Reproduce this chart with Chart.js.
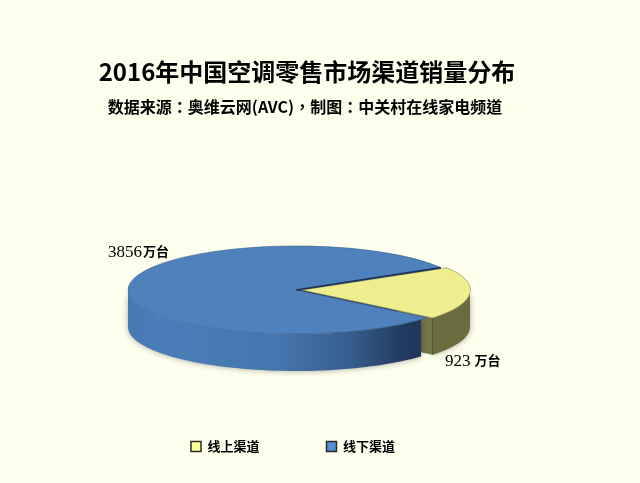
<!DOCTYPE html>
<html>
<head>
<meta charset="utf-8">
<style>
  html, body { margin: 0; padding: 0; background: #ffffee; }
  canvas { display: block; }
</style>
<script src="https://cdn.jsdelivr.net/npm/chart.js@4"></script>
</head>
<body>
<canvas id="myChart" width="640" height="483"></canvas>
<script>
var categories = ["线上渠道", "线下渠道"];
var salesValues = [923, 3856];
var valueUnit = "万台";
var titleText = "2016年中国空调零售市场渠道销量分布";
var subtitleText = "数据来源\uFF1A奥维云网(AVC)\uFF0C制图\uFF1A中关村在线家电频道";

var faceColors = ["#eeee8e", "#4f81bd"];
var legendColors = ["#ffff99", "#558ed5"];

// the pie is laid flat: centre on the page, squash and rim height
var pieX = 296, pieY = 290, squash = 0.262, depth = 37;

// page position of a point on the rim of an arc element
function rimPoint(arc, angle, extra) {
    var off = (arc.options.offset || 0) / 4;
    var mid = (arc.startAngle + arc.endAngle) / 2;
    var dx = Math.cos(mid) * off + Math.cos(angle) * arc.outerRadius;
    var dy = Math.sin(mid) * off + Math.sin(angle) * arc.outerRadius;
    return { x: pieX + dx, y: pieY + dy * squash + (extra || 0) };
}

function centerPoint(arc, extra) {
    var off = (arc.options.offset || 0) / 4;
    var mid = (arc.startAngle + arc.endAngle) / 2;
    return { x: pieX + Math.cos(mid) * off, y: pieY + Math.sin(mid) * off * squash + (extra || 0) };
}

// outer side of an arc, only the part that faces the viewer
function drawRim(ctx, arc, fill, trim) {
    var a0 = arc.startAngle + (trim || 0), a1 = Math.min(arc.endAngle, Math.PI);
    if (a0 < 0) a0 = 0;
    if (a0 >= a1) return;
    var i, p, n = 60;
    ctx.beginPath();
    for (i = 0; i <= n; i++) {
        p = rimPoint(arc, a0 + (a1 - a0) * i / n);
        if (i === 0) ctx.moveTo(p.x, p.y); else ctx.lineTo(p.x, p.y);
    }
    for (i = n; i >= 0; i--) {
        p = rimPoint(arc, a0 + (a1 - a0) * i / n, depth);
        ctx.lineTo(p.x, p.y);
    }
    ctx.closePath();
    ctx.fillStyle = fill;
    ctx.fill();
}

// flat cut side of a slice, from the tip to the rim
function drawCut(ctx, arc, angle, fill) {
    var c0 = centerPoint(arc), c1 = centerPoint(arc, depth);
    var r0 = rimPoint(arc, angle), r1 = rimPoint(arc, angle, depth);
    ctx.beginPath();
    ctx.moveTo(c0.x, c0.y);
    ctx.lineTo(r0.x, r0.y);
    ctx.lineTo(r1.x, r1.y);
    ctx.lineTo(c1.x, c1.y);
    ctx.closePath();
    ctx.fillStyle = fill;
    ctx.fill();
}

var pie3d = {
    id: "pie3d",
    afterLayout: function (chart) {
        // title, subtitle and legend do not share the middle of the page
        chart.titleBlock.left -= 13; chart.titleBlock.right -= 13;
        chart.legend.left -= 27; chart.legend.right -= 27;
        chart.legend.top = 440 - chart.options.plugins.legend.labels.padding;
        chart.boxes.forEach(function (box) {
            if (box.options && box.options.text === subtitleText) {
                box.left -= 15; box.right -= 15;
            }
        });
    },
    beforeDatasetsDraw: function (chart) {
        var ctx = chart.ctx;
        var arcs = chart.getDatasetMeta(0).data;
        var online = arcs[0], offline = arcs[1];

        var grad = ctx.createLinearGradient(128, 0, 424, 0);
        grad.addColorStop(0, "#4878b2");
        grad.addColorStop(0.1, "#4a7dba");
        grad.addColorStop(0.5, "#4676ae");
        grad.addColorStop(0.75, "#375e8e");
        grad.addColorStop(0.93, "#213a5f");
        grad.addColorStop(1, "#203659");

        ctx.save();
        ctx.shadowColor = "rgba(0,0,0,0.35)";
        ctx.shadowBlur = 6;
        drawRim(ctx, online, "#6b6b40");
        ctx.shadowColor = "transparent";
        drawCut(ctx, online, online.endAngle, "#74744a");
        var corner = rimPoint(online, online.endAngle);
        ctx.strokeStyle = "#55552f";
        ctx.lineWidth = 1;
        ctx.beginPath();
        ctx.moveTo(corner.x, corner.y);
        ctx.lineTo(corner.x, corner.y + depth);
        ctx.stroke();
        ctx.shadowColor = "rgba(0,0,0,0.35)";
        drawRim(ctx, offline, grad, 0.05);
        ctx.restore();

        drawCut(ctx, offline, offline.endAngle, "#1f3658");
    },
    beforeDatasetDraw: function (chart, args) {
        var ctx = chart.ctx;
        var arc = chart.getDatasetMeta(args.index).data[0];
        ctx.save();
        ctx.translate(pieX, pieY);
        ctx.scale(1, squash);
        ctx.translate(-arc.x, -arc.y);
    },
    afterDatasetDraw: function (chart) {
        chart.ctx.restore();
    },
    afterDatasetsDraw: function (chart) {
        var ctx = chart.ctx;
        var offline = chart.getDatasetMeta(0).data[1];

        // dark edge where the larger slice is cut away from the smaller one
        var tip = centerPoint(offline), end = rimPoint(offline, offline.endAngle);
        ctx.save();
        ctx.strokeStyle = "#1f3658";
        ctx.lineWidth = 1.6;
        ctx.beginPath();
        ctx.moveTo(tip.x, tip.y);
        ctx.lineTo(end.x, end.y);
        ctx.stroke();

        var spots = [{ x: 445, y: 366, gap: 4 }, { x: 108, y: 257, gap: 1 }];
        ctx.fillStyle = "#000000";
        ctx.textBaseline = "alphabetic";
        salesValues.forEach(function (v, i) {
            var num = String(v);
            ctx.font = "17px 'Liberation Serif'";
            ctx.fillText(num, spots[i].x, spots[i].y);
            var w = ctx.measureText(num).width;
            ctx.font = "bold 13px 'Noto Sans CJK SC'";
            ctx.fillText(valueUnit, spots[i].x + w + spots[i].gap, spots[i].y - 1);
        });
        ctx.restore();
    }
};

var ctx = document.getElementById("myChart").getContext("2d");
var myChart = new Chart(ctx, {
    type: "pie",
    data: {
        labels: categories,
        datasets: [
            {
                data: salesValues,
                backgroundColor: faceColors,
                borderColor: ["#8c8c5a", "#3c628f"],
                borderWidth: 1,
                offset: [24, 0],
                radius: 168,
                rotation: 59.5,
                clip: false,
            },
        ],
    },
    options: {
        responsive: false,
        animation: false,
        events: [],
        plugins: {
            tooltip: { enabled: false },
            title: {
                display: true,
                text: titleText,
                color: "#000000",
                font: { family: "'Noto Sans CJK SC'", size: 24, weight: "bold" },
                padding: { top: 57, bottom: 12 },
            },
            subtitle: {
                display: true,
                text: subtitleText,
                color: "#000000",
                font: { family: "'Noto Sans CJK TC'", size: 16, weight: "bold" },
                padding: { top: 0, bottom: 10 },
            },
            legend: {
                position: "bottom",
                labels: {
                    boxWidth: 10,
                    boxHeight: 10,
                    padding: 67,
                    color: "#000000",
                    font: { family: "'Noto Sans CJK SC'", size: 13, weight: "bold" },
                    generateLabels: function () {
                        return categories.map(function (name, i) {
                            return {
                                text: name,
                                fillStyle: legendColors[i],
                                strokeStyle: "#2b2b2b",
                                lineWidth: 1.5,
                                index: i,
                            };
                        });
                    },
                },
            },
        },
    },
    plugins: [pie3d],
});
</script>
</body>
</html>
